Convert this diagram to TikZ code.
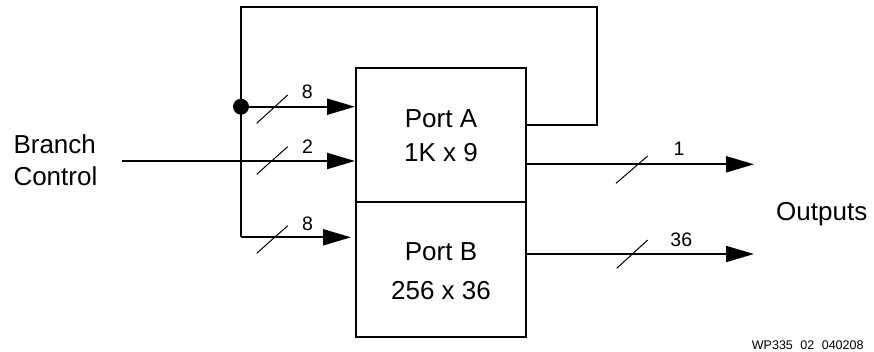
\documentclass[tikz,border=0pt]{standalone}
\usepackage{fontspec}
\setmainfont{Liberation Sans}
\usetikzlibrary{arrows.meta}
\begin{document}
\begin{tikzpicture}[x=1pt,y=-1pt,
  wire/.style={line width=2pt},
  arr/.style={wire,-{Triangle[length=28pt,width=16pt]}},
  busmark/.style={line width=1pt},
  portbox/.style={draw,line width=2pt,minimum width=170pt,minimum height=134.5pt,inner sep=0pt},
  bigtxt/.style={inner sep=0pt,font=\fontsize{26}{30}\selectfont},
  numtxt/.style={inner sep=0pt,anchor=base,font=\fontsize{19.5}{22}\selectfont},
  smalltxt/.style={inner sep=0pt,anchor=base west,font=\fontsize{12.5}{14}\selectfont}]
\useasboundingbox (0,0) rectangle (874,351);
% boxes
\node[portbox] (A) at (441,135) {};
\node[portbox] (B) at (441,269.5) {};
\node[bigtxt,anchor=base] (At1) at (441,127.3) {Port A};
\node[bigtxt,anchor=base] (At2) at (441,161) {1K x 9};
\node[bigtxt,anchor=base] (Bt1) at (441,260) {Port B};
\node[bigtxt,anchor=base] (Bt2) at (441,299) {256 x 36};
% labels
\node[bigtxt,anchor=base west] (br) at (13.3,153.3) {Branch};
\node[bigtxt,anchor=base west] (ct) at (13.3,185) {Control};
\node[bigtxt,anchor=base west] (out) at (776,220.7) {Outputs};
\node[smalltxt] (wp) at (751.7,349.3) {WP335\hspace{0.6em}02\hspace{0.6em}040208};
% coordinates
\coordinate (fbout) at (526,125.3);
\coordinate (fbR) at (597,7.3);
\coordinate (junc) at (241,106.7);
\coordinate (bend) at (241,237.3);
\coordinate (bc) at (121.7,161);
\coordinate (o1) at (754,164.3);
\coordinate (o2) at (754,254);
% feedback loop
\draw[wire,line join=miter] (fbout) -| (fbR) -| (junc) -- (bend);
\fill (junc) circle (8pt);
% inputs
\draw[arr] (junc) -- (junc -| A.west);
\draw[arr] (bc) -- (bc -| A.west);
\draw[arr,shorten >=4pt] (bend) -- (bend -| B.west);
% outputs
\draw[arr] (A.east |- o1) -- (o1);
\draw[arr] (B.east |- o2) -- (o2);
% bus marks
\draw[busmark] (256.7,123.3) -- (287.7,95);
\draw[busmark] (256.7,174.3) -- (287.7,146.7);
\draw[busmark] (256.7,253.3) -- (287.7,225.7);
\draw[busmark] (616,183.3) -- (647.7,156);
\draw[busmark] (616.7,268.3) -- (647.7,240);
% bus widths
\node[numtxt] (n8a) at (307.4,98.3) {8};
\node[numtxt] (n2) at (307.5,153.3) {2};
\node[numtxt] (n8b) at (307.5,230) {8};
\node[numtxt] (n1) at (679,155) {1};
\node[numtxt] (n36) at (681.3,246.7) {36};
\end{tikzpicture}
\end{document}
